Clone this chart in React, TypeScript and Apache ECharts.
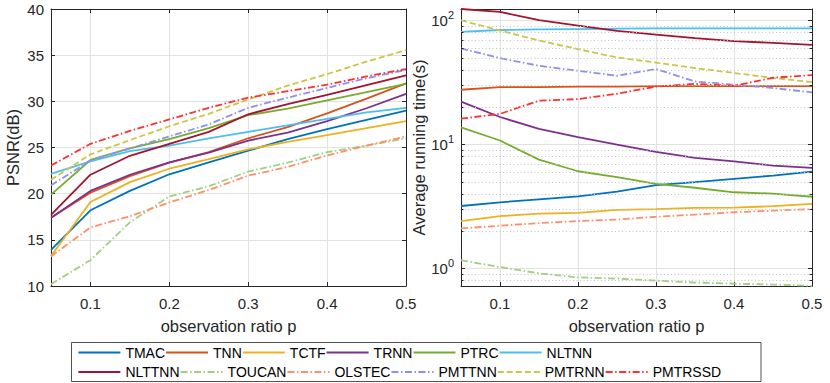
import React, { useEffect, useRef } from 'react';
import * as echarts from 'echarts';

const FONT = '"Liberation Sans", Arial, Helvetica, sans-serif';

// observation ratios
const ratios = [0.05, 0.1, 0.15, 0.2, 0.25, 0.3, 0.35, 0.4, 0.45, 0.5];

const methods = ['TMAC', 'TNN', 'TCTF', 'TRNN', 'PTRC', 'NLTNN', 'NLTTNN', 'TOUCAN', 'OLSTEC', 'PMTTNN', 'PMTRNN', 'PMTRSSD'];

// PSNR (dB)
const psnrTMAC = [13.9, 18.2, 20.3, 22.1, 23.4, 24.65, 25.9, 27.0, 28.0, 29.0];
const psnrTNN = [17.4, 20.1, 21.9, 23.35, 24.5, 26.0, 27.2, 28.7, 30.3, 31.95];
const psnrTCTF = [13.25, 19.1, 21.25, 22.7, 23.75, 24.8, 25.6, 26.35, 27.1, 27.85];
const psnrTRNN = [17.4, 20.3, 22.05, 23.4, 24.45, 25.75, 26.6, 27.85, 29.25, 30.8];
const psnrPTRC = [19.9, 23.65, 24.9, 25.9, 27.1, 28.5, 29.2, 30.1, 31.0, 31.9];
const psnrNLTNN = [22.15, 23.5, 24.6, 25.2, 26.0, 26.7, 27.4, 28.1, 28.8, 29.3];
const psnrNLTTNN = [17.7, 22.05, 24.1, 25.4, 26.7, 28.6, 29.7, 30.7, 31.75, 32.8];
const psnrTOUCAN = [10.2, 12.8, 16.9, 19.7, 20.8, 22.4, 23.35, 24.5, 25.2, 26.0];
const psnrOLSTEC = [13.2, 16.35, 17.55, 19.05, 20.4, 21.95, 22.9, 24.15, 25.2, 26.2];
const psnrPMTTNN = [20.9, 23.6, 24.9, 26.2, 27.5, 29.3, 30.4, 31.45, 32.5, 33.4];
const psnrPMTRNN = [21.5, 24.25, 25.8, 27.3, 28.65, 30.2, 31.7, 32.95, 34.3, 35.55];
const psnrPMTRSSD = [23.05, 25.4, 26.8, 28.05, 29.3, 30.4, 31.1, 31.8, 32.7, 33.5];

// Average running time (s)
const timeTMAC = [3.2, 3.43, 3.62, 3.83, 4.18, 4.71, 4.98, 5.3, 5.63, 6.07];
const timeTNN = [27.7, 29.1, 29.1, 29.3, 29.4, 29.6, 29.6, 29.6, 29.6, 29.6];
const timeTCTF = [2.42, 2.65, 2.78, 2.82, 2.98, 3.02, 3.09, 3.11, 3.19, 3.33];
const timeTRNN = [22.2, 16.7, 13.4, 11.5, 10.0, 8.73, 7.81, 7.34, 6.78, 6.5];
const timePTRC = [13.8, 10.8, 7.57, 6.1, 5.46, 4.83, 4.49, 4.13, 4.03, 3.8];
const timeNLTNN = [81, 84, 85, 85.5, 86, 86.5, 86.5, 86.5, 86.5, 86.5];
const timeNLTTNN = [124, 117.5, 101, 91, 82.6, 77.1, 72.2, 68.2, 66.1, 63.8];
const timeTOUCAN = [1.17, 1.03, 0.917, 0.851, 0.831, 0.801, 0.773, 0.758, 0.745, 0.725];
const timeOLSTEC = [2.11, 2.22, 2.33, 2.42, 2.49, 2.62, 2.73, 2.85, 2.94, 3.02];
const timePMTTNN = [59.7, 49.8, 43.2, 39.4, 35.9, 40.7, 32.3, 30.4, 28.6, 26.4];
const timePMTRNN = [100.7, 83.1, 69.1, 58.9, 50.4, 45.9, 41.4, 37.8, 34.5, 31.9];
const timePMTRSSD = [16.2, 17.7, 22.6, 23.3, 25.7, 29.4, 30.9, 29.8, 34.6, 36.4];

// axis tick values
const psnrTicks = { min: 10, max: 40, interval: 5 };
const timeRange = { min: 0.725, max: 124 };
const logMinorGrid = [0.8, 0.9, 2, 3, 4, 5, 6, 7, 8, 9, 20, 30, 40, 50, 60, 70, 80, 90];

const psnrAll = [psnrTMAC, psnrTNN, psnrTCTF, psnrTRNN, psnrPTRC, psnrNLTNN, psnrNLTTNN, psnrTOUCAN, psnrOLSTEC, psnrPMTTNN, psnrPMTRNN, psnrPMTRSSD];
const timeAll = [timeTMAC, timeTNN, timeTCTF, timeTRNN, timePTRC, timeNLTNN, timeNLTTNN, timeTOUCAN, timeOLSTEC, timePMTTNN, timePMTRNN, timePMTRSSD];

const colors = ['#0072BD', '#D95319', '#EDB120', '#7E2F8E', '#77AC30', '#4DBEEE', '#A2142F', '#9FCF7F', '#FF8F6B', '#8F8FEF', '#CCC545', '#FF3030'];
const DASHDOT = [7, 2.5, 1.5, 2.5];
const DASHED = [6, 3];
const styles: any[] = ['solid', 'solid', 'solid', 'solid', 'solid', 'solid', 'solid', DASHDOT, DASHDOT, DASHDOT, DASHED, DASHDOT];

const AX = '#262626';

function xFmt(v: number) {
  const r = Math.round(v * 10);
  return Math.abs(v * 10 - r) < 1e-6 ? (r / 10).toFixed(1) : '';
}

function logFmt(v: number) {
  const l = Math.log10(v);
  const r = Math.round(l);
  if (Math.abs(l - r) > 1e-6) return '';
  return `{b|10}{s|${r}}`;
}

export default function App() {
  const ref = useRef<HTMLDivElement>(null);

  useEffect(() => {
    if (!ref.current) return;
    const chart = echarts.init(ref.current, undefined, { renderer: 'svg' });

    const axisLine = { show: true, onZero: false, lineStyle: { color: AX, width: 1 } };
    const axisTick = { show: true, inside: true, length: 4, lineStyle: { color: AX, width: 1 } };
    const grid = { show: true, lineStyle: { color: '#e2e2e2', width: 1 } };
    const tickLabel = { color: AX, fontSize: 15, fontFamily: FONT };
    const nameStyle = { color: AX, fontSize: 16.5, fontFamily: FONT };

    const xBase = (gridIndex: number, pos: 'bottom' | 'top') => ({
      type: 'value',
      gridIndex,
      position: pos,
      min: ratios[0],
      max: ratios[ratios.length - 1],
      splitNumber: 5,
      axisLine,
      axisTick,
      axisLabel: pos === 'bottom' ? { ...tickLabel, margin: 10, formatter: xFmt } : { show: false },
      splitLine: pos === 'bottom' ? grid : { show: false },
      name: pos === 'bottom' ? 'observation ratio p' : '',
      nameLocation: 'middle',
      nameGap: 31,
      nameTextStyle: nameStyle,
    });

    const series: any[] = [];

    // minor log grid + minor ticks on right panel
    const tickLen = 0.45 * 2.5 / 351;
    series.push({
      type: 'line',
      xAxisIndex: 2,
      yAxisIndex: 2,
      data: [[ratios[0], timeRange.min]],
      symbol: 'none',
      lineStyle: { opacity: 0 },
      silent: true,
      z: 1,
      markLine: {
        silent: true,
        symbol: ['none', 'none'],
        label: { show: false },
        animation: false,
        lineStyle: { color: '#c4c4c4', type: [1, 2.5], width: 1 },
        data: logMinorGrid.map((v) => ({ yAxis: v })),
      },
    });
    series.push({
      type: 'line',
      xAxisIndex: 2,
      yAxisIndex: 2,
      data: [[ratios[0], timeRange.min]],
      symbol: 'none',
      lineStyle: { opacity: 0 },
      silent: true,
      z: 5,
      markLine: {
        silent: true,
        symbol: ['none', 'none'],
        label: { show: false },
        animation: false,
        lineStyle: { color: AX, type: 'solid', width: 1 },
        data: [
          ...logMinorGrid.map((v) => [{ coord: [ratios[0], v] }, { coord: [ratios[0] + tickLen, v] }]),
          ...logMinorGrid.map((v) => [{ coord: [ratios[ratios.length - 1] - tickLen, v] }, { coord: [ratios[ratios.length - 1], v] }]),
        ],
      },
    });

    methods.forEach((m, i) => {
      const common = {
        name: m,
        type: 'line',
        symbol: 'none',
        showSymbol: false,
        lineStyle: { color: colors[i], width: 1.8, type: styles[i] },
        itemStyle: { color: colors[i] },
        emphasis: { disabled: true },
        z: 3,
      };
      series.push({ ...common, xAxisIndex: 0, yAxisIndex: 0, data: ratios.map((x, j) => [x, psnrAll[i][j]]) });
      series.push({ ...common, xAxisIndex: 2, yAxisIndex: 2, data: ratios.map((x, j) => [x, timeAll[i][j]]) });
    });

    const legendCommon = {
      orient: 'horizontal',
      left: 77.4,
      itemWidth: 42,
      itemHeight: 14,
      itemGap: 0,
      padding: 0,
      selectedMode: false,
      itemStyle: { opacity: 0 },
      formatter: (n: string) => `{t|${n}}`,
      textStyle: {
        rich: { t: { width: 66.5, fontSize: 14, fontFamily: FONT, color: '#000' } },
      },
    };

    chart.setOption({
      animation: false,
      textStyle: { fontFamily: FONT },
      grid: [
        { left: 51, top: 9, width: 355, height: 277, containLabel: false },
        { left: 461, top: 9, width: 351, height: 277, containLabel: false },
      ],
      xAxis: [xBase(0, 'bottom'), xBase(0, 'top'), xBase(1, 'bottom'), xBase(1, 'top')],
      yAxis: [
        {
          type: 'value',
          gridIndex: 0,
          position: 'left',
          min: psnrTicks.min,
          max: psnrTicks.max,
          interval: psnrTicks.interval,
          axisLine,
          axisTick,
          axisLabel: { ...tickLabel, margin: 7 },
          splitLine: grid,
          name: 'PSNR(dB)',
          nameLocation: 'middle',
          nameGap: 30,
          nameTextStyle: nameStyle,
        },
        {
          type: 'value',
          gridIndex: 0,
          position: 'right',
          min: psnrTicks.min,
          max: psnrTicks.max,
          interval: psnrTicks.interval,
          axisLine,
          axisTick,
          axisLabel: { show: false },
          splitLine: { show: false },
        },
        {
          type: 'log',
          logBase: 10,
          gridIndex: 1,
          position: 'left',
          min: timeRange.min,
          max: timeRange.max,
          axisLine,
          axisTick,
          axisLabel: {
            margin: 7,
            formatter: logFmt,
            rich: {
              b: { fontSize: 15, lineHeight: 22, fontFamily: FONT, color: AX },
              s: { fontSize: 11, lineHeight: 11, verticalAlign: 'top', fontFamily: FONT, color: AX },
            },
          },
          splitLine: grid,
          name: 'Average running time(s)',
          nameLocation: 'middle',
          nameGap: 30,
          nameTextStyle: nameStyle,
        },
        {
          type: 'log',
          logBase: 10,
          gridIndex: 1,
          position: 'right',
          min: timeRange.min,
          max: timeRange.max,
          axisLine,
          axisTick,
          axisLabel: { show: false },
          splitLine: { show: false },
        },
      ],
      legend: [
        { ...legendCommon, data: methods.slice(0, 6), top: 345.5 },
        { ...legendCommon, data: methods.slice(6), top: 365 },
      ],
      graphic: [
        {
          type: 'rect',
          silent: true,
          shape: { x: 71.5, y: 342.5, width: 689.5, height: 39 },
          style: { fill: 'none', stroke: AX, lineWidth: 0.8 },
        },
      ],
      series,
    });

    return () => chart.dispose();
  }, []);

  return <div ref={ref} style={{ position: 'fixed', left: 0, top: 0, width: 830, height: 383, background: '#fff' }} />;
}
